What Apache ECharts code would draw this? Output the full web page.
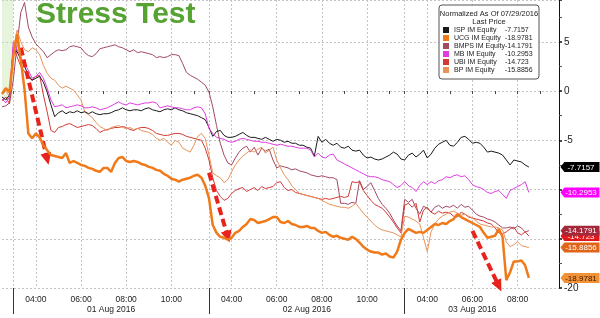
<!DOCTYPE html>
<html><head><meta charset="utf-8">
<script src="https://cdn.jsdelivr.net/npm/echarts@6/dist/echarts.min.js"></script>
<style>html,body{margin:0;padding:0;background:#fff}#c{width:600px;height:318px}</style>
</head><body><div id="c"></div>
<script>
// ---- axis categories (10-minute trading slots, non-trading hours removed) ----
function slots(day, from, to) {
  const out = [];
  for (let m = from; m <= to; m += 10) {
    out.push(day + ' ' + String(Math.floor(m / 60)).padStart(2, '0') + ':' + String(m % 60).padStart(2, '0'));
  }
  return out;
}
const categories = [].concat(
  slots('29 Jul', 670, 690),
  slots('01 Aug', 180, 690),
  slots('02 Aug', 180, 690),
  slots('03 Aug', 180, 590)
);
const timeTicks = ['04:00', '06:00', '08:00', '10:00'];
const sessionStart = '03:00';
const dateTicks = { '01 Aug 07:20': '01 Aug 2016', '02 Aug 07:20': '02 Aug 2016', '03 Aug 06:00': '03 Aug 2016' };
const yHiddenLabels = [-10, -15];

// ---- series values (normalized, % vs 07/29/2016) ----
const names = ['ISP IM Equity', 'UCG IM Equity', 'BMPS IM Equity', 'MB IM Equity', 'UBI IM Equity', 'BP IM Equity'];

const isp = [-0.6, -0.9, -0.4,
  4.2, 4.0, 3.2, 2.5, 1.6, 1.1, 1.3, 1.5, 0.9, -0.1,
  -1.4, -2.6, -2.2, -2.0, -2.3, -2.1, -2.2, -2.0, -2.2, -2.1, -2.3, -2.1, -2.3, -2.4,
  -2.3, -2.3, -2.2, -2.0, -1.9, -1.7, -1.9, -2.0, -1.9, -1.9, -2.0, -1.8, -1.7, -1.9,
  -2.0, -2.1, -1.9, -1.8, -1.9, -1.7, -1.9, -2.0, -2.2, -2.3, -2.4, -2.5, -2.7, -2.9,
  -3.7, -4.6, -4.1, -4.0, -4.5, -4.7, -4.7, -4.6, -4.4, -4.2, -4.5, -4.7, -4.7, -4.8,
  -4.9, -4.7, -4.9, -5.1, -4.9, -5.0, -5.2, -5.1, -5.3, -5.3, -5.5, -5.5, -5.7, -5.8,
  -6.6, -4.6, -5.2, -4.9, -5.3, -5.5, -5.3, -5.7, -5.8, -5.6, -6.0, -6.1, -6.0, -6.5,
  -6.8, -6.7, -6.9, -7.0, -6.9, -6.7, -6.5, -6.2, -6.4, -6.9, -7.0, -6.5, -6.3, -6.7,
  -6.4, -6.0, -6.8, -6.4, -5.8, -5.4, -5.2, -5.0, -5.5, -5.6, -5.2, -4.7, -4.6, -4.9,
  -5.3, -5.2, -5.3, -5.7, -6.2, -6.1, -6.2, -6.3, -6.5, -7.0, -7.5, -7.0, -7.1, -7.2, -7.5, -7.7157];

const ucg = [-0.3, 0.3, -0.1,
  3.5, 5.8, 3.2, 0.1, -4.3, -4.8, -4.3, -4.7, -5.5, -6.0,
  -6.5, -6.6, -6.7, -6.8, -6.3, -7.3, -7.1, -7.3, -7.5, -7.6, -7.8, -7.9, -8.1, -8.2,
  -7.8, -7.8, -8.2, -7.3, -6.8, -6.7, -7.1, -7.2, -7.1, -7.2, -7.4, -7.5, -7.7, -7.8,
  -8.0, -8.1, -8.4, -8.6, -8.9, -9.0, -9.2, -9.0, -8.9, -8.8, -8.6, -8.5, -8.8, -9.6,
  -10.9, -13.6, -14.4, -14.8, -14.9, -15.1, -14.9, -14.4, -14.2, -13.8, -13.5, -13.0, -13.1, -13.4,
  -13.3, -13.2, -13.0, -12.8, -12.8, -13.3, -13.4, -13.2, -13.5, -13.6, -13.8, -13.8, -13.7, -13.9,
  -13.9, -14.2, -14.4, -14.3, -14.6, -14.8, -14.7, -14.9, -15.0, -15.1, -14.8, -15.0, -15.4, -15.8,
  -16.1, -16.3, -16.4, -16.4, -16.6, -16.5, -16.8, -16.9, -16.3, -15.1, -14.4, -14.0, -14.2, -14.4,
  -14.3, -14.4, -14.1, -13.8, -13.5, -13.6, -13.4, -13.5, -13.2, -13.0, -12.5, -12.8, -13.0, -13.2,
  -13.4, -13.6, -13.8, -14.4, -14.9, -14.8, -14.7, -14.0, -14.8, -19.2, -18.4, -17.3, -17.3, -17.2, -17.7, -18.9781];

const bmps = [-1.6, -1.5, -1.2,
  1.1, 4.7, 8.0, 9.0, 6.5, 5.5, 4.8, 4.4, 4.0, 3.4,
  3.7, 4.0, 4.2, 4.1, 4.2, 4.5, 4.6, 4.5, 4.4, 3.9, 3.6, 3.5, 3.8, 4.3,
  4.4, 4.5, 4.6, 4.7, 4.5, 4.4, 4.2, 4.0, 4.2, 3.9, 4.0, 3.9, 3.8, 3.7,
  3.4, 3.5, 3.4, 3.5, 3.7, 3.7, 3.6, 2.8, 1.9, 1.6, 1.4, 1.2, 0.9, 0.6,
  -0.1, -1.6, -3.5, -5.3, -6.5, -7.3, -7.5, -6.8, -6.2, -5.8, -5.6, -6.2, -5.7, -6.5,
  -5.8, -6.1, -5.9, -7.0, -7.8, -7.6, -7.7, -7.8, -8.0, -7.9, -8.1, -8.2, -8.3, -8.5,
  -8.6, -8.7, -8.6, -8.7, -8.8, -8.8, -9.0, -11.4, -11.4, -11.5, -11.3, -11.4, -9.1, -10.0,
  -9.7, -9.3, -10.1, -10.9, -11.5, -11.9, -12.4, -13.1, -13.7, -14.2, -11.0, -11.3, -11.0, -11.9,
  -12.5, -11.7, -11.9, -12.3, -11.8, -11.6, -11.9, -11.7, -11.8, -11.6, -11.9, -11.5, -11.8, -11.7,
  -12.1, -12.5, -12.7, -12.8, -13.0, -13.1, -13.3, -13.6, -13.9, -13.9, -13.8, -14.0, -13.7, -13.9, -14.3, -14.1791];

const mb = [-0.8, -1.2, -0.6,
  5.0, 4.2, 3.4, 2.8, 2.1, 1.3, 1.5, 1.9, 1.3, 0.3,
  -0.9, -1.6, -1.5, -1.4, -1.7, -1.6, -1.5, -1.4, -1.5, -1.7, -1.7, -1.6, -1.7, -1.9,
  -1.8, -1.7, -1.5, -1.3, -1.1, -1.3, -1.4, -1.2, -1.3, -1.4, -1.3, -1.2, -1.2, -1.1,
  -1.2, -1.7, -1.6, -1.5, -1.6, -1.7, -1.7, -1.8, -1.9, -1.9, -1.7, -1.6, -1.7, -2.3,
  -3.8, -4.3, -4.7, -4.8, -4.9, -5.1, -5.2, -5.1, -4.9, -4.8, -4.9, -5.0, -5.1, -5.1,
  -5.2, -5.2, -5.3, -5.4, -5.5, -5.4, -5.5, -5.6, -5.6, -5.7, -5.8, -5.8, -5.8, -6.0,
  -6.7, -6.3, -6.7, -6.8, -6.5, -6.4, -7.0, -7.2, -7.4, -7.6, -7.8, -8.0, -8.2, -8.4,
  -8.6, -8.7, -8.7, -8.8, -9.0, -9.1, -9.2, -9.5, -9.8, -9.6, -9.2, -9.6, -9.8, -10.2,
  -9.6, -9.2, -9.5, -9.2, -9.4, -9.1, -9.0, -8.7, -8.8, -8.6, -8.5, -8.7, -8.6, -9.0,
  -9.5, -9.7, -9.8, -10.0, -10.3, -10.4, -10.2, -10.1, -10.5, -10.9, -10.1, -9.9, -9.7, -9.5, -9.2, -10.2953];

const ubi = [-1.0, -0.6, -1.3,
  4.5, 3.5, 2.5, 2.0, 1.4, 1.1, 1.5, 1.6, -0.4, -2.1,
  -4.0, -4.2, -3.7, -3.6, -3.4, -3.3, -3.5, -3.7, -3.6, -3.5, -3.4, -3.5, -3.8, -4.2,
  -4.0, -3.9, -3.8, -3.7, -3.7, -3.6, -3.7, -3.9, -4.0, -3.8, -3.7, -3.7, -3.8, -4.0,
  -4.3, -4.4, -4.5, -4.5, -4.4, -4.3, -4.3, -4.4, -4.6, -4.7, -4.8, -4.9, -5.0, -5.8,
  -7.0, -8.8, -10.1, -10.7, -11.1, -10.9, -10.4, -10.1, -9.9, -9.8, -10.2, -10.0, -9.8, -10.1,
  -9.7, -9.9, -9.8, -9.7, -9.3, -9.2, -9.8, -10.1, -10.0, -10.3, -10.4, -10.5, -10.6, -10.7,
  -10.8, -10.9, -11.0, -10.9, -11.0, -10.9, -10.8, -10.7, -10.8, -10.7, -9.2, -9.3, -9.2, -10.1,
  -10.6, -11.1, -11.5, -11.7, -11.9, -12.3, -12.8, -13.3, -13.9, -14.4, -11.6, -11.4, -11.8, -11.4,
  -13.3, -12.1, -11.8, -12.3, -12.5, -12.2, -12.4, -12.3, -12.4, -12.7, -12.8, -12.3, -12.5, -12.8,
  -12.9, -13.0, -13.1, -13.2, -13.4, -13.5, -13.9, -14.4, -14.5, -14.3, -14.0, -13.8, -14.4, -14.6, -14.3, -14.723];

const bp = [-0.3, 0.0, -0.5,
  4.2, 6.2, 5.0, 4.2, 4.0, 4.4, 4.2, 3.7, 2.6, 1.8,
  1.3, 1.1, 0.6, 0.3, 0.5, 0.3, 0.1, -0.4, -0.9, -2.1, -2.4, -2.7, -3.2, -3.6,
  -3.8, -4.0, -3.7, -3.6, -3.5, -3.7, -3.8, -3.7, -3.9, -3.8, -4.0, -4.1, -4.2, -4.4,
  -4.8, -5.0, -4.8, -5.2, -5.5, -5.0, -5.2, -5.8, -6.0, -6.2, -5.5, -4.6, -4.3, -4.8,
  -6.5, -8.3, -8.6, -8.8, -9.3, -9.0, -8.2, -7.5, -7.0, -6.6, -6.3, -6.0, -6.2, -5.9,
  -5.7, -6.3, -6.0, -5.7, -7.0, -7.8, -8.5, -9.0, -9.6, -10.0, -10.4, -10.5, -10.6, -10.7,
  -10.8, -10.9, -11.1, -11.3, -11.5, -11.6, -11.7, -11.8, -11.8, -11.9, -11.7, -11.4, -11.9, -12.4,
  -12.8, -13.2, -13.6, -13.9, -14.1, -14.2, -14.3, -14.4, -14.6, -14.8, -12.7, -12.8, -13.0, -13.2,
  -13.5, -14.9, -16.3, -14.3, -13.5, -13.0, -12.7, -12.5, -12.3, -12.2, -12.4, -12.6, -12.5, -12.7,
  -12.9, -13.2, -13.5, -13.6, -13.7, -13.8, -13.8, -13.9, -14.1, -15.3, -15.8, -15.6, -15.3, -15.7, -15.8, -15.8856];

// annotation arrows: [from [categoryIndex, value], to [categoryIndex, value]]
const arrows = [[[5, 4.4], [12, -6.9]], [[55, -8.3], [60, -14.8]], [[125, -14.2], [132, -19.8]]];

const seriesValues = [isp, ucg, bmps, mb, ubi, bp];
const lineColors = ['#1a1a1a', '#f07a1a', '#a24a62', '#e03ce0', '#d23a36', '#e8935a'];
const lineWidths = [1, 2.5, 1, 1, 1, 1];
const tagColors = ['#000000', '#f29236', '#a3283a', '#ff00ff', '#e3161b', '#e0651a'];
const tagText = ['#fff', '#3a1800', '#fff', '#fff', '#fff', '#fff'];
const tagZ = [8, 8, 8, 8, 6, 8];
const lineZ = [3, 5, 2, 3, 2, 2];

const lastOf = a => a[a.length - 1];
const lastMap = {};
names.forEach((n, i) => lastMap[n] = lastOf(seriesValues[i]));
const axisEnd = categories[categories.length - 1];
const FONT = 'Liberation Sans';
const tagPath = 'path://M0,5L4,0L40,0L40,10L4,10Z';

const series = names.map((name, i) => ({
  name, type: 'line', data: seriesValues[i], showSymbol: false, symbol: 'none',
  z: lineZ[i], color: lineColors[i], emphasis: { disabled: true },
  lineStyle: { width: lineWidths[i], color: lineColors[i] },
  markPoint: {
    silent: true, z: tagZ[i], symbol: tagPath, symbolSize: [39, 10], symbolOffset: [21, 0],
    itemStyle: { color: tagColors[i] },
    label: { show: true, position: 'inside', offset: [1, 0.5], color: tagText[i], fontSize: 8, fontFamily: FONT,
      formatter: () => String(lastMap[name]) },
    data: [{ coord: [axisEnd, lastMap[name]] }]
  }
}));
series[0].markArea = {
  silent: true, label: { show: false }, itemStyle: { color: 'rgba(200,230,180,0.45)' },
  data: [[{ coord: [0, -0.9] }, { coord: [3, 9.25] }]]
};
series[1].markLine = {
  silent: true, symbol: ['none', 'triangle'], symbolSize: [11, 12],
  lineStyle: { color: '#e8231d', width: 4, type: [8, 4] }, itemStyle: { color: '#e8231d' },
  label: { show: false }, emphasis: { disabled: true },
  data: arrows.map(a => [{ coord: a[0] }, { coord: a[1] }])
};

const chart = echarts.init(document.getElementById('c'));
chart.setOption({
  animation: false,
  backgroundColor: '#fff',
  title: { text: 'Stress Test', left: 36, top: 0, padding: 0,
    textStyle: { fontFamily: FONT, fontSize: 30, fontWeight: 'bold', color: '#56a232' } },
  grid: { left: 2, right: 41, top: 0, bottom: 30 },
  legend: {
    data: names, orient: 'vertical', left: 439, top: 5, icon: 'rect', itemWidth: 6, itemHeight: 6, itemGap: 0,
    padding: [21, 5, 5, 4], backgroundColor: '#fff', borderColor: '#555', borderWidth: 1, borderRadius: 3,
    selectedMode: false,
    textStyle: { fontFamily: FONT, fontSize: 7, color: '#222', lineHeight: 8,
      rich: { n: { width: 51, fontSize: 7, lineHeight: 8, fontFamily: FONT }, v: { width: 29, fontSize: 7, lineHeight: 8, fontFamily: FONT } } },
    formatter: n => '{n|' + n + '}{v|' + lastMap[n] + '}'
  },
  graphic: [{ type: 'text', x: 489, y: 10, z: 100, silent: true,
    style: { text: 'Normalized As Of 07/29/2016\nLast Price', align: 'center', verticalAlign: 'top',
      fontSize: 7.5, lineHeight: 8, fill: '#222', fontFamily: FONT } }],
  xAxis: [{
    type: 'category', data: categories, boundaryGap: false,
    axisLine: { show: false },
    axisTick: { show: true, length: 3, lineStyle: { color: '#444' },
      interval: (i, v) => v.endsWith(':00') && !v.startsWith('29 Jul') },
    axisLabel: { interval: (i, v) => timeTicks.includes(v.slice(7)), formatter: v => v.slice(7),
      fontSize: 8.5, color: '#222', margin: 7, fontFamily: FONT },
    splitLine: { show: true, lineStyle: { color: '#c4c4c4', type: [2, 2] },
      interval: (i, v) => !v.startsWith('29 Jul') && (timeTicks.includes(v.slice(7)) || v.slice(7) === sessionStart) }
  }, {
    type: 'category', data: categories, boundaryGap: false, position: 'bottom',
    axisLine: { show: false },
    axisTick: { show: true, length: 26, lineStyle: { color: '#333' },
      interval: (i, v) => v.slice(7) === sessionStart },
    axisLabel: { interval: (i, v) => v in dateTicks, formatter: v => dateTicks[v] || '',
      fontSize: 8.5, color: '#222', margin: 17, fontFamily: FONT },
    splitLine: { show: false }
  }],
  yAxis: {
    type: 'value', position: 'right', min: -20, max: 9.25, interval: 5,
    axisLine: { show: true, lineStyle: { color: '#111' } },
    axisTick: { show: true, length: 3, lineStyle: { color: '#111', width: 1.5 } },
    minorTick: { show: true, splitNumber: 2, length: 3, lineStyle: { color: '#555' } },
    axisLabel: { fontSize: 10, color: '#222', margin: 5, fontFamily: FONT,
      formatter: v => (v % 5 !== 0 || yHiddenLabels.includes(v)) ? '' : String(v) },
    splitLine: { show: true, lineStyle: { color: '#c4c4c4', type: [2, 2] } }
  },
  series
});
</script>
</body></html>
